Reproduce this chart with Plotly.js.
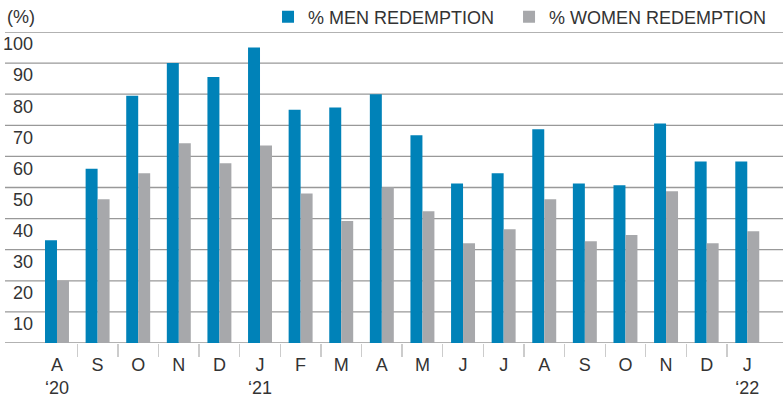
<!DOCTYPE html>
<html>
<head>
<meta charset="utf-8">
<script src="https://cdn.plot.ly/plotly-3.0.1.min.js"></script>
<style>html,body{margin:0;padding:0;background:#fff;}#chart{width:783px;height:404px;}</style>
</head>
<body>
<div id="chart"></div>
<script>
var months = ["A","S","O","N","D","J","F","M","A","M","J","J","A","S","O","N","D","J"];
var years = ["‘20","","","","","‘21","","","","","","","","","","","","‘22"];
var menRedemption = [33,56,79.5,90,85.5,95,75,75.7,80,66.8,51.3,54.6,68.7,51.3,50.7,70.6,58.4,58.4];
var womenRedemption = [20,46.2,54.6,64.2,57.8,63.5,48.1,39.2,50.1,42.4,32.1,36.6,46.2,32.7,34.7,48.8,32.1,35.9];
var yTicks = [0,10,20,30,40,50,60,70,80,90,100];
var seriesNames = ["% MEN REDEMPTION","% WOMEN REDEMPTION"];

var xIdx = months.map(function(_, i){ return i; });
var tickText = months.map(function(m, i){ return years[i] ? m + "<br>" + years[i] : m; });
var boundaries = xIdx.slice(0, -1).map(function(i){ return i + 0.5; });

var font = {family: "Liberation Sans, Arial, sans-serif", size: 18, color: "#333333"};

var traces = [
  {type: "bar", name: seriesNames[0] + "\u00a0\u00a0", x: xIdx, y: menRedemption, marker: {color: "#0082b8"}, hoverinfo: "skip"},
  {type: "bar", name: seriesNames[1], x: xIdx, y: womenRedemption, marker: {color: "#a7a8ab"}, hoverinfo: "skip"}
];

var gridShapes = yTicks.map(function(v){
  return {type: "line", xref: "paper", yref: "y", x0: -0.0415, x1: 1, y0: v, y1: v,
          line: {color: "#999999", width: 1.3}, layer: "below"};
});

var layout = {
  width: 783, height: 404,
  margin: {l: 36, r: 0, t: 32, b: 61, autoexpand: false},
  paper_bgcolor: "#ffffff", plot_bgcolor: "#ffffff",
  font: font,
  barmode: "group", bargap: 0.41, bargroupgap: 0,
  showlegend: true,
  legend: {orientation: "h", x: 0.3106, xanchor: "left", y: 1.048, yanchor: "middle",
           font: font, bgcolor: "rgba(0,0,0,0)", traceorder: "normal"},
  xaxis: {type: "linear", range: [-0.517, 17.88], tickmode: "array", tickvals: xIdx, ticktext: tickText,
          ticks: "outside", ticklen: 5, tickcolor: "rgba(0,0,0,0)", showgrid: false, zeroline: false,
          showline: false, tickfont: font, fixedrange: true, automargin: false,
          minor: {tickmode: "array", tickvals: boundaries, ticks: "outside", ticklen: 13, tickwidth: 1.3,
                  tickcolor: "#cccccc", showgrid: false}},
  yaxis: {range: [0, 100], tickmode: "array", tickvals: yTicks.slice(1), ticktext: yTicks.slice(1).map(String),
          ticks: "", showgrid: false, zeroline: false, showline: false, tickfont: font, automargin: false,
          ticklabelshift: 12, ticklabelstandoff: 2, fixedrange: true},
  shapes: gridShapes,
  annotations: [{xref: "paper", yref: "paper", x: -0.0415, y: 1, yshift: 15, xanchor: "left", yanchor: "middle",
                 text: "(%)", showarrow: false, font: font}]
};

Plotly.newPlot("chart", traces, layout, {displayModeBar: false, staticPlot: true});
</script>
</body>
</html>
